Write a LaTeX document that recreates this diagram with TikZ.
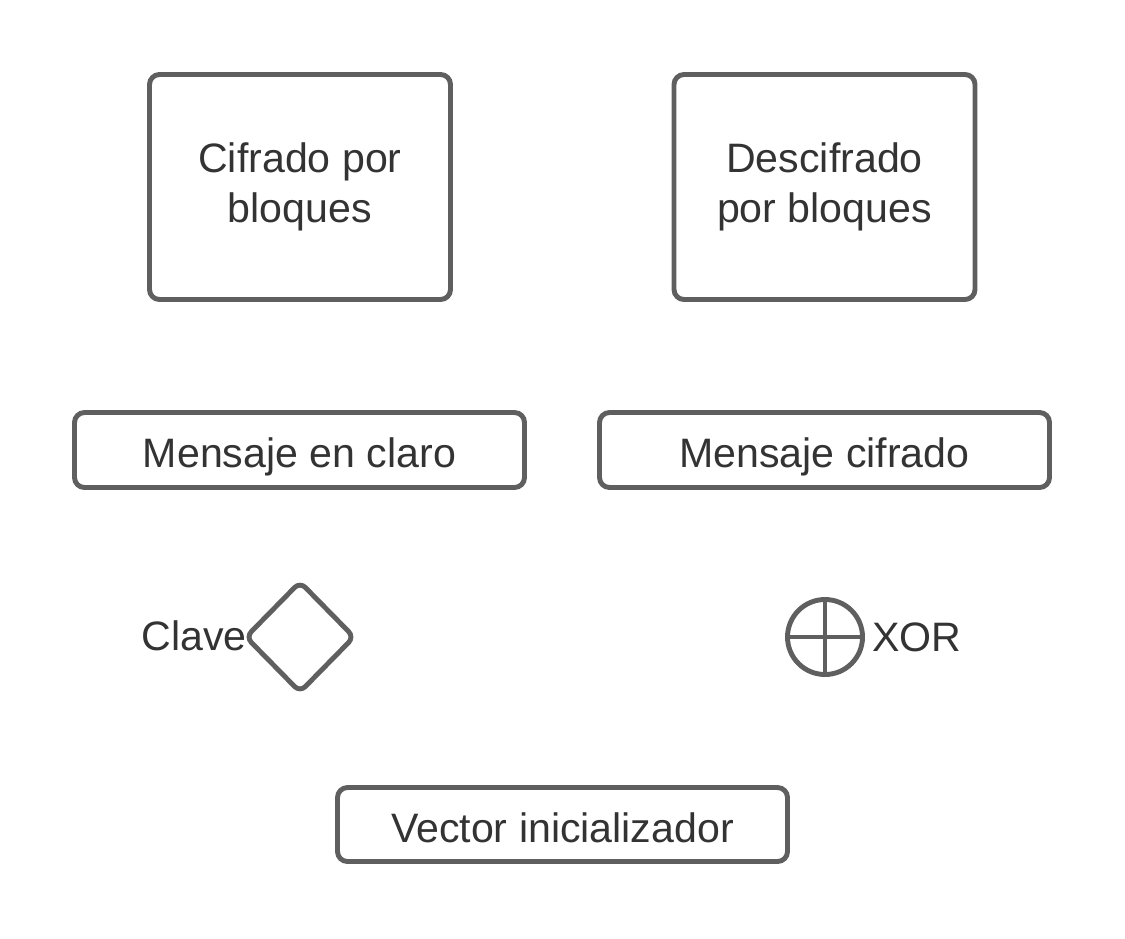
\documentclass[tikz,border=0pt]{standalone}
\usepackage{fontspec}
\setmainfont{Liberation Sans}
\usetikzlibrary{shapes.geometric}
\definecolor{linegray}{HTML}{5F5F5F}
\definecolor{textgray}{HTML}{333333}

\begin{document}
\begin{tikzpicture}
  \tikzstyle{base}=[draw = linegray, line width = 2.8pt, rounded corners = 2mm, text = textgray, font = \fontsize{23.4}{28.4}\selectfont, inner sep = 0pt]
  \tikzstyle{block}=[base, rectangle, align = center, minimum width = 6.02cm, minimum height = 4.5cm]
  \tikzstyle{message}=[base, rectangle, minimum width = 9.0cm, minimum height = 1.5cm, text height = 20.2pt, text depth = 0pt]
  \tikzstyle{key}=[base, diamond, minimum width = 2.2cm, minimum height = 2.24cm, rounded corners = 1.5mm]
  \tikzstyle{xor}=[base, circle, minimum size = 1.5cm]
  \tikzstyle{label}=[text = textgray, font = \fontsize{23.4}{28.4}\selectfont, inner sep = 0pt]

  \useasboundingbox (0, 0) rectangle (22.5, -18.76);

  \node[block] (cifrado) at (6.0, -3.74) {Cifrado por\\bloques};
  \node[block] (descifrado) at (16.49, -3.74) {Descifrado\\por bloques};

  \foreach \pos/\name/\text in {5.99/claro/Mensaje en claro, 16.49/cifrado/Mensaje cifrado}
    \node[message] (msg\name) at (\pos, -9.0) {\text};

  \node[key] (clave) at (6.0, -12.74) {};
  \node[label, anchor = east] (clavetext) at (4.94, -12.72) {Clave};

  \node[xor] (xor) at (16.5, -12.74) {};
  \draw[draw = linegray, line width = 2.8pt] (xor.north) -- (xor.south);
  \draw[draw = linegray, line width = 2.8pt] (xor.west) -- (xor.east);
  \node[label, anchor = west] (xortext) at (17.44, -12.74) {XOR};

  \node[message, minimum height = 1.48cm] (vector) at (11.25, -16.49) {Vector inicializador};
\end{tikzpicture}
\end{document}
